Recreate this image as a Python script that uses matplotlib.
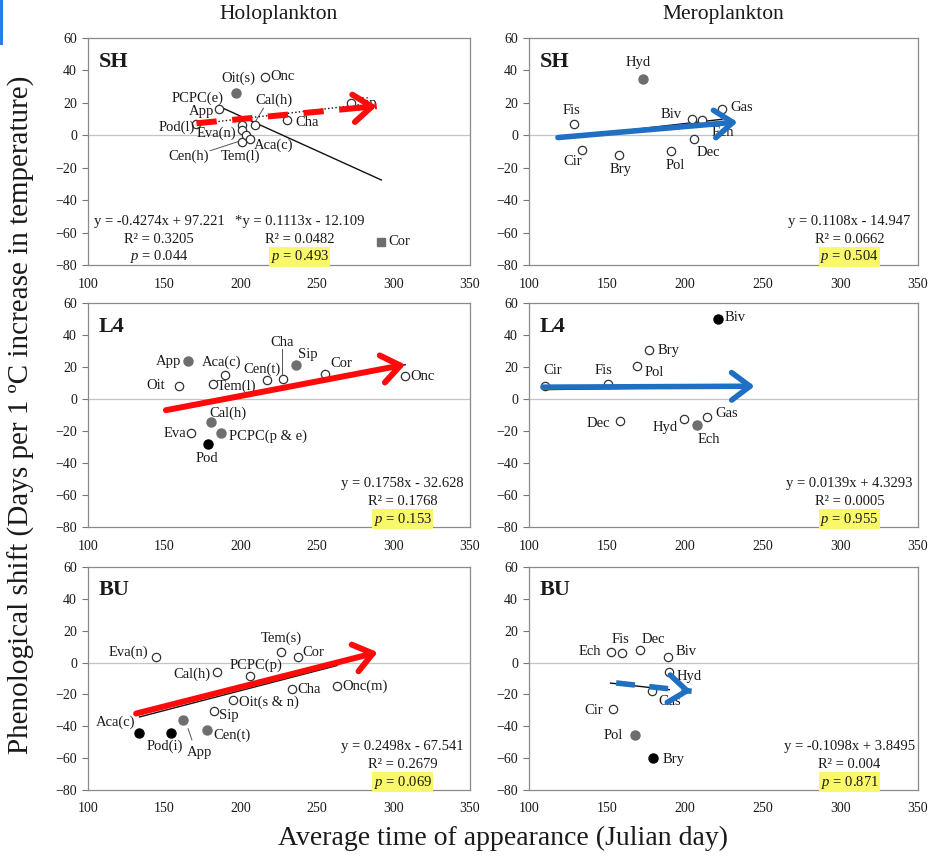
import matplotlib
matplotlib.use('Agg')
import matplotlib.pyplot as plt
from matplotlib.patches import Rectangle

plt.rcParams['font.family'] = ['Liberation Serif', 'DejaVu Serif']
plt.rcParams['mathtext.fontset'] = 'custom'
plt.rcParams['mathtext.it'] = 'Liberation Serif:italic'
plt.rcParams['mathtext.rm'] = 'Liberation Serif'

# ---------------- data ----------------
x_ticks = [100, 150, 200, 250, 300, 350]
y_ticks = [-80, -60, -40, -20, 0, 20, 40, 60]

# kinds: o = open circle, g = grey filled, k = black filled, s = grey square
sh_holo_names = ['PCPC(e)', 'Oit(s)', 'Onc', 'App', 'Pod(l)', 'Eva(n)', 'Cen(h)', 'Tem(l)',
                 'Aca(c)', 'Cal(h)', 'Cha', 'Sip', 'Cor']
sh_holo_x = [197, 200.5, 216, 186, 171, 201, 201, 203.5, 206, 209, 230, 272, 292]
sh_holo_y = [26, 6.5, 36, 16, 7, 3, -4, 0, -2, 6.5, 9.5, 20, -66]
sh_holo_kind = ['g', 'o', 'o', 'o', 'o', 'o', 'o', 'o', 'o', 'o', 'o', 'o', 's']

sh_mero_names = ['Hyd', 'Fis', 'Cir', 'Bry', 'Pol', 'Dec', 'Biv', 'Ech', 'Gas']
sh_mero_x = [173, 129, 134, 158, 191.5, 206, 205, 211.5, 224]
sh_mero_y = [35, 7, -9, -12.3, -9.4, -2.5, 9.8, 9.4, 16]
sh_mero_kind = ['g', 'o', 'o', 'o', 'o', 'o', 'o', 'o', 'o']

l4_holo_names = ['App', 'Oit', 'Aca(c)', 'Tem(l)', 'Cen(t)', 'Cha', 'Sip', 'Cor', 'Onc',
                 'Cal(h)', 'Eva', 'PCPC(p & e)', 'Pod']
l4_holo_x = [165.7, 159.6, 189.7, 181.7, 217, 227.5, 235.8, 254.8, 307.6, 180.3, 167.5, 187.3, 178.8]
l4_holo_y = [23.5, 7.9, 15.2, 9.4, 12, 12.7, 21.5, 15.6, 14.6, -14.6, -21.3, -21.3, -27.9]
l4_holo_kind = ['g', 'o', 'o', 'o', 'o', 'o', 'g', 'o', 'o', 'g', 'o', 'g', 'k']

l4_mero_names = ['Biv', 'Bry', 'Pol', 'Cir', 'Fis', 'Dec', 'Hyd', 'Ech', 'Gas']
l4_mero_x = [221.2, 177, 169.7, 110, 150.9, 158.4, 199.6, 208.2, 214.6]
l4_mero_y = [50.2, 30.5, 20.4, 8, 9.5, -13.6, -12.6, -16.3, -11.5]
l4_mero_kind = ['k', 'o', 'o', 'o', 'o', 'o', 'o', 'g', 'o']

bu_holo_names = ['Eva(n)', 'Tem(s)', 'Cor', 'Cal(h)', 'PCPC(p)', 'Cha', 'Onc(m)', 'Oit(s & n)',
                 'Sip', 'App', 'Cen(t)', 'Aca(c)', 'Pod(i)']
bu_holo_x = [144.4, 226.3, 237.2, 184.3, 206.2, 233.5, 263, 195.2, 182.7, 161.9, 177.9, 133.7, 154.5]
bu_holo_y = [3.3, 6.5, 3.3, -6, -8.5, -16.5, -14.4, -23.75, -30.6, -36.25, -42.5, -44.2, -44.2]
bu_holo_kind = ['o', 'o', 'o', 'o', 'o', 'o', 'o', 'o', 'o', 'g', 'g', 'k', 'k']

bu_mero_names = ['Ech', 'Fis', 'Dec', 'Biv', 'Hyd', 'Gas', 'Cir', 'Pol', 'Bry']
bu_mero_x = [152.4, 159.7, 171.6, 189.4, 190.1, 179.1, 154, 167.9, 179.7]
bu_mero_y = [6.4, 5.8, 7.9, 3.3, -6.2, -18, -29, -45.3, -59.8]
bu_mero_kind = ['o', 'o', 'o', 'o', 'o', 'o', 'o', 'g', 'k']

# regression fits (slope, intercept, x start, x end)
sh_holo_fit = [(-0.4274, 97.221, 186, 292), (0.1113, -12.109, 171, 278)]
sh_mero_fit = [(0.1108, -14.947, 129, 224)]
l4_holo_fit = [(0.1758, -32.628, 159.6, 307.6)]
l4_mero_fit = [(0.0139, 4.3293, 110, 221.2)]
bu_holo_fit = [(0.2498, -67.541, 133.7, 263)]
bu_mero_fit = [(-0.1098, 3.8495, 152.4, 190.1)]

sh_holo_eq = [['y = -0.4274x + 97.221', 'R² = 0.3205', '0.044'],
              ['*y = 0.1113x - 12.109', 'R² = 0.0482', '0.493']]
sh_mero_eq = [['y = 0.1108x - 14.947', 'R² = 0.0662', '0.504']]
l4_holo_eq = [['y = 0.1758x - 32.628', 'R² = 0.1768', '0.153']]
l4_mero_eq = [['y = 0.0139x + 4.3293', 'R² = 0.0005', '0.955']]
bu_holo_eq = [['y = 0.2498x - 67.541', 'R² = 0.2679', '0.069']]
bu_mero_eq = [['y = -0.1098x + 3.8495', 'R² = 0.004', '0.871']]

# trend arrows: (x0, y0, x1, y1)
sh_holo_arrow = (171, 7.4, 289, 18)
sh_mero_arrow = (118.6, -1.4, 234, 8.2)
l4_holo_arrow = (151, -7, 307.6, 21.5)
l4_mero_arrow = (109, 7.4, 245, 8)
bu_holo_arrow = (131.5, -32, 289.6, 6.5)
bu_mero_arrow = (156, -12.8, 204.5, -18)

# ---------------- label placement (layout) ----------------
sh_holo_lab = {'Oit(s)': (198.5, 35.2, 'center'), 'Onc': (219.5, 36.3, 'left'),
               'PCPC(e)': (188.6, 23, 'right'), 'Cal(h)': (222, 21.4, 'center'),
               'App': (182.5, 14.8, 'right'), 'Pod(l)': (158, 5, 'center'),
               'Eva(n)': (184.3, 1, 'center'), 'Cen(h)': (165.7, -12.8, 'center'),
               'Tem(l)': (199.6, -12.8, 'center'), 'Aca(c)': (221.4, -6, 'center'),
               'Cha': (235.6, 7.8, 'left'), 'Sip': (276, 19.8, 'left'),
               'Cor': (296.5, -65.7, 'left')}
sh_mero_lab = {'Hyd': (170, 44.7, 'center'), 'Fis': (127.2, 15.4, 'center'),
               'Cir': (128.3, -16.2, 'center'), 'Bry': (158.9, -21.3, 'center'),
               'Pol': (194, -18.4, 'center'), 'Dec': (215, -10.7, 'center'),
               'Biv': (191.5, 12.9, 'center'), 'Ech': (224.7, 2, 'center'),
               'Gas': (229.4, 17, 'left')}
l4_holo_lab = {'App': (161, 23.5, 'right'), 'Oit': (144.3, 8.3, 'center'),
               'Aca(c)': (187.6, 22.9, 'center'), 'Cen(t)': (213.8, 18.3, 'center'),
               'Tem(l)': (184, 8, 'left'), 'Cha': (226.9, 35.4, 'center'),
               'Sip': (243.7, 28.1, 'center'), 'Cor': (265.7, 22, 'center'),
               'Onc': (311, 13.75, 'left'), 'Cal(h)': (191.9, -8.75, 'center'),
               'Eva': (164.6, -21.7, 'right'), 'PCPC(p & e)': (192, -23, 'left'),
               'Pod': (177.7, -37.5, 'center')}
l4_mero_lab = {'Biv': (225.5, 51, 'left'), 'Bry': (182.5, 30.5, 'left'),
               'Pol': (174.5, 16.3, 'left'), 'Cir': (115, 17.7, 'center'),
               'Fis': (147.6, 17.7, 'center'), 'Dec': (144.4, -15.2, 'center'),
               'Hyd': (187.3, -17.9, 'center'), 'Ech': (215.7, -25.5, 'center'),
               'Gas': (219.5, -9, 'left')}
bu_holo_lab = {'Eva(n)': (126.3, 6.5, 'center'), 'Tem(s)': (226.3, 15.4, 'center'),
               'Cor': (240.5, 6.5, 'left'), 'Cal(h)': (167.9, -7.5, 'center'),
               'PCPC(p)': (209.9, -1.5, 'center'), 'Cha': (237, -16.7, 'left'),
               'Onc(m)': (266.5, -15, 'left'), 'Oit(s & n)': (198.8, -24.8, 'left'),
               'Sip': (186, -33.5, 'left'), 'Aca(c)': (118.2, -37.7, 'center'),
               'Pod(i)': (150.4, -52.5, 'center'), 'App': (172.9, -56.5, 'center'),
               'Cen(t)': (182.3, -45.6, 'left')}
bu_mero_lab = {'Ech': (138.8, 7.2, 'center'), 'Fis': (158.8, 14.5, 'center'),
               'Dec': (179.7, 14.5, 'center'), 'Biv': (194.5, 7.2, 'left'),
               'Hyd': (195, -8.7, 'left'), 'Gas': (190.5, -24.2, 'center'),
               'Cir': (141.6, -30, 'center'), 'Pol': (153.9, -45.9, 'center'),
               'Bry': (186, -61, 'left')}

sh_holo_lead = [[(214.8, 16.7), (209.6, 8.5)], [(180, -9.5), (199.5, -3.5)]]
l4_holo_lead = [[(226.9, 31.5), (226.9, 15)]]
bu_holo_lead = [[(165.5, -41.5), (168, -48.5)]]

RED = '#ff0a0a'
BLUE = '#1f6fc2'
GREY = '#6e6e6e'
TXT = '#1a1a1a'

fig = plt.figure(figsize=(9.3, 8.57), dpi=100)
fig.patches.append(Rectangle((0, 1 - 45 / 857), 3 / 930, 45 / 857, transform=fig.transFigure,
                             facecolor='#2a7de1', edgecolor='none'))

left_cols = [(88 / 930, 382 / 930), (529 / 930, 389 / 930)]
rows = [(1 - 265 / 857, 227 / 857), (1 - 527 / 857, 224 / 857), (1 - 790 / 857, 223 / 857)]

panels = [
    (0, 0, 'SH', sh_holo_names, sh_holo_x, sh_holo_y, sh_holo_kind, sh_holo_fit, sh_holo_eq,
     sh_holo_arrow, RED, True, sh_holo_lab, sh_holo_lead),
    (0, 1, 'SH', sh_mero_names, sh_mero_x, sh_mero_y, sh_mero_kind, sh_mero_fit, sh_mero_eq,
     sh_mero_arrow, BLUE, False, sh_mero_lab, []),
    (1, 0, 'L4', l4_holo_names, l4_holo_x, l4_holo_y, l4_holo_kind, l4_holo_fit, l4_holo_eq,
     l4_holo_arrow, RED, False, l4_holo_lab, l4_holo_lead),
    (1, 1, 'L4', l4_mero_names, l4_mero_x, l4_mero_y, l4_mero_kind, l4_mero_fit, l4_mero_eq,
     l4_mero_arrow, BLUE, False, l4_mero_lab, []),
    (2, 0, 'BU', bu_holo_names, bu_holo_x, bu_holo_y, bu_holo_kind, bu_holo_fit, bu_holo_eq,
     bu_holo_arrow, RED, False, bu_holo_lab, bu_holo_lead),
    (2, 1, 'BU', bu_mero_names, bu_mero_x, bu_mero_y, bu_mero_kind, bu_mero_fit, bu_mero_eq,
     bu_mero_arrow, BLUE, True, bu_mero_lab, []),
]

head = '->,head_length=0.6,head_width=0.45'

for (r, c, site, names, xs, ys, kinds, fits, eqs, arrow, acol, dashed, labs, leads) in panels:
    ax = fig.add_axes([left_cols[c][0], rows[r][0], left_cols[c][1], rows[r][1]])
    ax.set_xlim(100, 350)
    ax.set_ylim(-80, 60)
    ax.set_xticks(x_ticks)
    ax.set_yticks(y_ticks)
    ax.tick_params(axis='x', length=0, pad=9, labelsize=10, colors=TXT)
    ax.tick_params(axis='y', length=4, width=0.8, color='#777777', pad=4, labelsize=10, labelcolor=TXT)
    for sp in ax.spines.values():
        sp.set_color('#8a8a8a')
        sp.set_linewidth(0.9)
    ax.axhline(0, color='#c4c4c4', lw=0.9, zorder=1)

    # regression lines
    for i, (m, b, xa, xb) in enumerate(fits):
        ls = ':' if (site == 'SH' and c == 0 and i == 1) else '-'
        ax.plot([xa, xb], [m * xa + b, m * xb + b], color='#111111', lw=1.0, ls=ls, zorder=2)

    # points
    for n, x, y, k in zip(names, xs, ys, kinds):
        if k == 'o':
            ax.plot(x, y, 'o', ms=6, mfc='white', mec='#333333', mew=0.9, zorder=4)
        elif k == 'g':
            ax.plot(x, y, 'o', ms=6.5, mfc=GREY, mec=GREY, zorder=4)
        elif k == 'k':
            ax.plot(x, y, 'o', ms=6.5, mfc='black', mec='black', zorder=4)
        elif k == 's':
            ax.plot(x, y, 's', ms=6, mfc=GREY, mec=GREY, zorder=4)
        tx, ty, ha = labs[n]
        ax.text(tx, ty, n, ha=ha, va='center', fontsize=10.5, color=TXT, zorder=5)
    for seg in leads:
        ax.plot([seg[0][0], seg[1][0]], [seg[0][1], seg[1][1]], color='#555555', lw=0.7, zorder=3)

    # trend arrow
    x0, y0, x1, y1 = arrow
    lw = 4.3 if acol == RED else 4.0
    if dashed:
        ax.plot([x0, x1], [y0, y1], color=acol, lw=lw, ls=(0, (3.4, 2.6)), zorder=6,
                solid_capstyle='butt')
        fx = x0 + 0.9 * (x1 - x0)
        fy = y0 + 0.9 * (y1 - y0)
        ax.annotate('', xy=(x1, y1), xytext=(fx, fy),
                    arrowprops=dict(arrowstyle=head, lw=lw, color=acol, mutation_scale=22,
                                    shrinkA=0, shrinkB=0), zorder=6)
    else:
        ax.annotate('', xy=(x1, y1), xytext=(x0, y0),
                    arrowprops=dict(arrowstyle=head, lw=lw, color=acol, mutation_scale=22,
                                    shrinkA=0, shrinkB=0), zorder=6)

    # site label
    ax.text(0.028, 0.895, site, transform=ax.transAxes, fontsize=16, fontweight='bold',
            ha='left', va='center', color=TXT)

    # equations
    if len(eqs) == 2:
        eq_x = [146.5, 238.7]
    else:
        eq_x = [306]
    for ex, (l1, l2, pv) in zip(eq_x, eqs):
        ax.text(ex, -53, l1, ha='center', va='center', fontsize=10.5, color=TXT)
        ax.text(ex, -64, l2, ha='center', va='center', fontsize=10.5, color=TXT)
        hl = not (len(eqs) == 2 and ex == eq_x[0])
        bb = dict(facecolor='#f8f86a', edgecolor='none', pad=1.0) if hl else None
        ax.text(ex, -75, r'$\mathit{p}$ = ' + pv, ha='center', va='center', fontsize=10.5,
                color=TXT, bbox=bb)

fig.text(279 / 930, 1 - 15 / 857, 'Holoplankton', ha='center', va='center', fontsize=15.5, color=TXT)
fig.text(723 / 930, 1 - 15 / 857, 'Meroplankton', ha='center', va='center', fontsize=15.5, color=TXT)
fig.text(503 / 930, 1 - 838 / 857, 'Average time of appearance (Julian day)', ha='center',
         va='center', fontsize=20, color=TXT)
fig.text(21 / 930, 1 - 415 / 857, 'Phenological shift (Days per 1 ºC increase in temperature)',
         ha='center', va='center', rotation=90, fontsize=21, color=TXT)

fig.savefig('out.png', dpi=100)
